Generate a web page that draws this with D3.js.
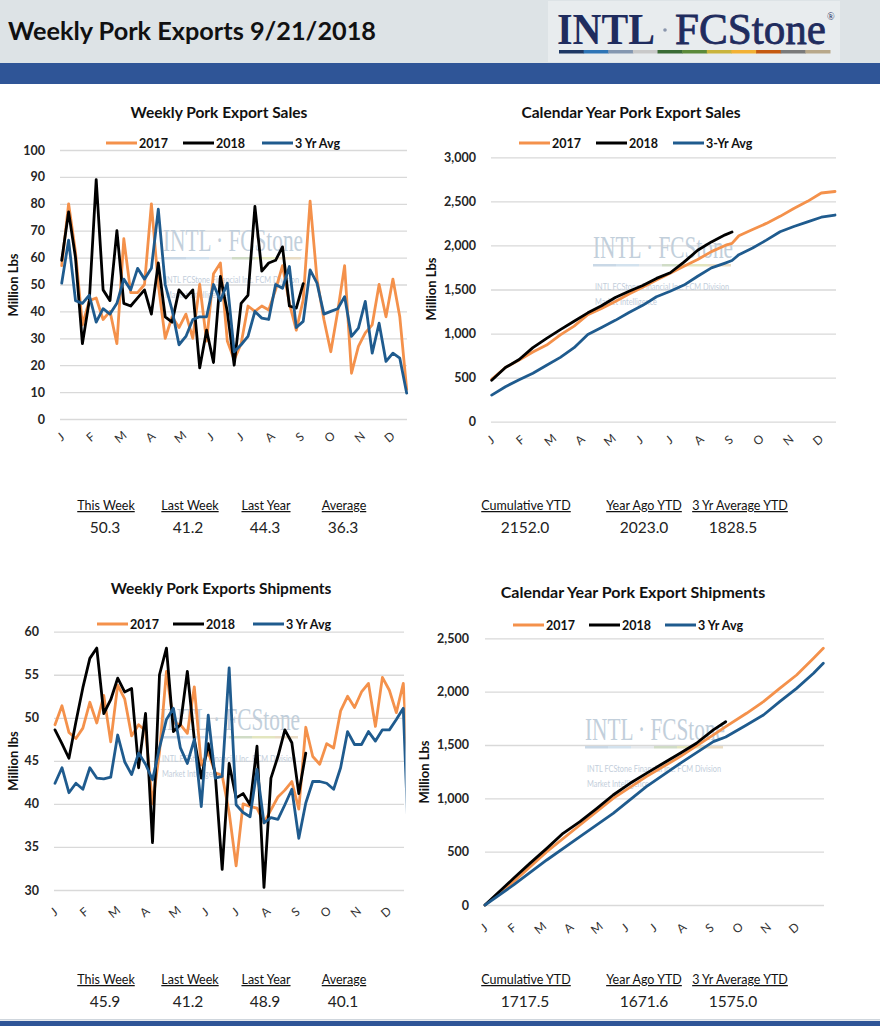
<!DOCTYPE html>
<html>
<head>
<meta charset="utf-8">
<script src="https://cdn.jsdelivr.net/npm/d3@7"></script>
<style>
  body { margin: 0; background: #fff; }
  svg { display: block; font-family: Lato, "Open Sans", sans-serif; }
</style>
</head>
<body>
<svg id="page" width="880" height="1026"></svg>
<script>
const MONTHS = ['J','F','M','A','M','J','J','A','S','O','N','D'];
const NAMES = ['2017', '2018', '3 Yr Avg'];
const NAMES_CY_SALES = ['2017', '2018', '3-Yr Avg'];

// weekly export sales, million lbs (week index 0..50)
const salesWk2017 = [57, 80, 62, 35, 44, 45, 37, 40, 28, 67, 47, 47, 50, 80, 50, 30, 38, 34, 39, 30,
  50, 29, 54, 58, 29, 22, 28, 42, 40, 42, 40.5, 48, 57, 43, 33, 44.3, 81, 52, 37, 25,
  40, 57, 17, 27, 32, 35, 50, 38, 52, 38, 11];
const salesWk2018 = [59, 77, 60, 28, 44, 89, 48, 44, 70, 43, 42, 45, 48, 39, 58, 38, 36, 48, 45, 48,
  19, 33, 21, 53, 40, 20, 43, 46, 79, 55, 58, 59, 64, 42, 41.2, 50.3];
const salesWkAvg = [50.5, 66.5, 44, 43, 46, 36, 41, 39, 43, 52, 48, 56, 52, 56, 78, 50, 40.5, 27.6, 30.7, 37,
  38, 38, 50, 44, 50.5, 25, 27.6, 30.7, 40, 37.5, 37, 50, 48.6, 56.7, 34, 36.3, 55.4, 50.5, 39, 40,
  41, 45.5, 30.7, 33.8, 43.7, 24.5, 35.6, 21.4, 24.5, 22.6, 9.6];

// calendar-year cumulative sales (week, million lbs)
const salesCumWk17 = [0, 2, 4, 6, 8, 10, 12, 14, 16, 18, 20, 22, 24, 26, 28, 30, 32, 34, 35, 36, 38, 40, 42, 44, 46, 48, 50];
const salesCum17 = [480, 615, 700, 790, 870, 985, 1085, 1215, 1285, 1365, 1450, 1525, 1607, 1685, 1765, 1840, 1930, 2000, 2023, 2110, 2180, 2250, 2330, 2420, 2500, 2595, 2612];
const salesCumWk18 = [0, 2, 4, 6, 8, 10, 12, 14, 16, 18, 20, 22, 24, 26, 28, 30, 32, 34, 35];
const salesCum18 = [470, 615, 705, 840, 945, 1045, 1140, 1235, 1315, 1410, 1480, 1545, 1626, 1690, 1810, 1945, 2040, 2120, 2152];
const salesCumWkAvg = [0, 2, 4, 6, 8, 10, 12, 14, 16, 18, 20, 22, 24, 26, 28, 30, 32, 34, 35, 36, 38, 40, 42, 44, 46, 48, 50];
const salesCumAvg = [302, 397, 475, 550, 640, 730, 840, 990, 1070, 1150, 1240, 1320, 1418, 1480, 1550, 1650, 1745, 1800, 1828.5, 1895, 1970, 2060, 2155, 2215, 2268, 2320, 2345];

// weekly shipments, million lbs (last value of 2017/avg only partly visible at the right edge)
const shipWk2017 = [49.2, 51.4, 48.3, 47.6, 48.8, 51.8, 49.4, 52.6, 47.2, 53.8, 52.2, 47.9, 49.2, 48.5, 40, 46, 55.4, 49.4, 49.2, 48.2,
  53.6, 44.5, 46, 43.6, 43.3, 39, 32.8, 40, 39.7, 39.5, 37.8, 39.3, 40.8, 41.6, 42.6, 39.4, 48.9, 45.5, 44.6, 47,
  46.5, 50.8, 52.5, 51.2, 53, 54, 49, 54.7, 53.2, 50.6, 54, 40];
const shipWk2018 = [48.6, 47, 45.3, 49.5, 53.5, 56.9, 58.1, 50.5, 52.1, 54.6, 53, 53.4, 44.2, 50.5, 35.5, 55, 58.1, 48.4, 49.2, 55.4,
  47.5, 43, 47, 43.5, 32.4, 44.7, 40.7, 41.2, 39.9, 46.7, 30.3, 43, 45.5, 48.6, 47.1, 41.2, 45.9];
const shipWkAvg = [42.4, 44.2, 41.3, 42.4, 41.7, 44.2, 43, 42.9, 43.1, 48, 44.9, 43.4, 45.9, 44.6, 42.8, 46.5, 49.8, 51.1, 46.5, 44.7,
  47.5, 39.7, 50.3, 43, 43.2, 55.8, 39.9, 39, 38.5, 44, 37.8, 38.4, 38.2, 39.9, 41.7, 36, 40.1, 42.6, 42.6, 42.4,
  41.7, 44.2, 48.4, 46.9, 46.9, 48.4, 47.3, 48.6, 48.6, 49.8, 51.1, 30];

// calendar-year cumulative shipments (week, million lbs)
const shipCumWk17 = [0, 4.4, 9.5, 14.6, 19.7, 24.8, 30, 35.1, 37, 40.2, 42.8, 45.3, 47.9, 50.5, 52];
const shipCum17 = [0, 219, 500, 750, 1000, 1203, 1391, 1594, 1671.6, 1797, 1906, 2031, 2156, 2313, 2406];
const shipCumWk18 = [0, 4.4, 6.9, 9.5, 12, 14.6, 17.2, 19.7, 22.3, 24.8, 27.4, 30, 32.5, 35.1, 37];
const shipCum18 = [0, 250, 390, 531, 672, 781, 906, 1031, 1141, 1234, 1328, 1422, 1516, 1641, 1717.5];
const shipCumWkAvg = [0, 4.4, 9.5, 14.6, 19.7, 24.8, 30, 35.1, 37, 40.2, 42.8, 45.3, 47.9, 50.5, 52];
const shipCumAvg = [0, 188, 422, 641, 859, 1109, 1328, 1531, 1575, 1688, 1781, 1906, 2031, 2172, 2266];

const WEEK_STAT_LABELS = ['This Week', 'Last Week', 'Last Year', 'Average'];
const CY_STAT_LABELS = ['Cumulative YTD', 'Year Ago YTD', '3 Yr Average YTD'];
const salesStats = ['50.3', '41.2', '44.3', '36.3'];
const salesCyStats = ['2152.0', '2023.0', '1828.5'];
const shipStats = ['45.9', '41.2', '48.9', '40.1'];
const shipCyStats = ['1717.5', '1671.6', '1575.0'];

const C17 = '#f4914b', C18 = '#000000', CAVG = '#1f5b8e';
const svg = d3.select('#page');

function byIndex(vals) { return vals.map(function (v, i) { return [i, v]; }); }

function drawHeader() {
  svg.append('rect').attr('width', 880).attr('height', 63).attr('fill', '#dde3e6');
  svg.append('rect').attr('x', 548).attr('y', 1).attr('width', 292).attr('height', 61).attr('fill', '#e8ecee');
  svg.append('rect').attr('y', 63).attr('width', 880).attr('height', 21).attr('fill', '#2f5597');
  svg.append('text').attr('x', 8).attr('y', 40).attr('font-size', 24).attr('font-weight', 'bold')
    .attr('textLength', 368).attr('lengthAdjust', 'spacingAndGlyphs')
    .attr('fill', '#111').text('Weekly Pork Exports 9/21/2018');

  const logo = svg.append('g').attr('font-family', '"Liberation Serif", serif').attr('fill', '#1f2c5e');
  logo.append('text').attr('x', 557).attr('y', 44).attr('font-size', 44).attr('font-weight', 'bold')
    .attr('textLength', 98).attr('lengthAdjust', 'spacingAndGlyphs').text('INTL');
  logo.append('circle').attr('cx', 665).attr('cy', 30).attr('r', 1.8).attr('fill', '#8a96ad');
  logo.append('text').attr('x', 675).attr('y', 44).attr('font-size', 44).attr('stroke', '#1f2c5e').attr('stroke-width', 0.8)
    .attr('textLength', 151).attr('lengthAdjust', 'spacingAndGlyphs').text('FCStone');
  logo.append('text').attr('x', 827).attr('y', 20).attr('font-size', 10).text('®');
  const stripe = ['#1f3864','#2e75b6','#8497b0','#c9c9c9','#3a6b35','#5b8a3a','#c9b43c','#f2b134','#c55a11','#7a7a7a','#b8a88a'];
  const sx = d3.scaleBand().domain(d3.range(stripe.length)).range([559, 830]);
  logo.selectAll('rect.stripe').data(stripe).join('rect').attr('class', 'stripe')
    .attr('x', function (d, i) { return sx(i); }).attr('y', 50).attr('width', sx.bandwidth() + 0.5).attr('height', 3.5)
    .attr('fill', function (d) { return d; });

  svg.append('rect').attr('y', 1019).attr('width', 880).attr('height', 1.5).attr('fill', '#cfd6dd');
  svg.append('rect').attr('y', 1021).attr('width', 880).attr('height', 5).attr('fill', '#2f5597');
}

function drawWatermark(g, x, y) {
  const wm = g.append('g').attr('class', 'watermark');
  wm.append('text').attr('x', x).attr('y', y).attr('font-family', '"Liberation Serif", serif').attr('font-size', 31)
    .attr('fill', '#c2cfdb').attr('textLength', 140).attr('lengthAdjust', 'spacingAndGlyphs').text('INTL · FCStone');
  const pale = ['#c9d8e6','#d3e2ee','#e6e9ec','#d0dcc6','#e3e6bf','#e9dcc4'];
  const px = d3.scaleBand().domain(d3.range(pale.length)).range([x, x + 138]);
  wm.selectAll('rect').data(pale).join('rect')
    .attr('x', function (d, i) { return px(i); }).attr('y', y + 6).attr('width', px.bandwidth()).attr('height', 2.5)
    .attr('fill', function (d) { return d; });
  wm.append('text').attr('x', x + 2).attr('y', y + 32).attr('font-size', 10).attr('fill', '#c3cedb')
    .attr('textLength', 134).attr('lengthAdjust', 'spacingAndGlyphs').text('INTL FCStone Financial Inc. FCM Division');
  wm.append('text').attr('x', x + 2).attr('y', y + 47).attr('font-size', 10).attr('fill', '#c3cedb')
    .attr('textLength', 62).attr('lengthAdjust', 'spacingAndGlyphs').text('Market Intelligence');
}

function drawChart(c) {
  const x = d3.scaleLinear().domain(c.xDomain).range([c.x0, c.x1]);
  const y = d3.scaleLinear().domain(c.yDomain).range([c.yBottom, c.yTop]);
  const g = svg.append('g');

  g.append('text').attr('x', c.titleX).attr('y', c.titleY).attr('text-anchor', 'middle')
    .attr('font-size', c.titleSize).attr('font-weight', 'bold').attr('fill', '#111').text(c.title);

  const axis = d3.axisLeft(y).tickValues(c.yTicks).tickFormat(c.fmt)
    .tickSize(-(c.gx1 - c.gx0)).tickPadding(c.pad);
  const ax = g.append('g').attr('transform', 'translate(' + c.gx0 + ',0)').call(axis)
    .attr('font-family', null).attr('font-size', null);
  ax.select('.domain').remove();
  ax.selectAll('.tick line').attr('stroke', '#d9d9d9').attr('stroke-width', 1.3);
  ax.selectAll('.tick text').attr('font-size', 12.5).attr('font-weight', 'bold').attr('fill', '#262626');

  g.append('text').attr('transform', 'translate(' + c.ylabX + ',' + c.ylabY + ') rotate(-90)')
    .attr('text-anchor', 'middle').attr('dy', '0.35em').attr('font-size', 13).attr('font-weight', 'bold')
    .attr('fill', '#111').text(c.ylab);

  g.selectAll('text.month').data(MONTHS).join('text').attr('class', 'month')
    .attr('transform', function (d, i) {
      return 'translate(' + (x(i * 52 / 12) - 1) + ',' + c.monthY + ') rotate(-40)';
    })
    .attr('text-anchor', 'middle').attr('dy', '0.35em').attr('font-size', 12).attr('fill', '#333')
    .text(function (d) { return d; });

  drawWatermark(g, c.wmX, c.wmY);

  const clipId = 'clip' + c.id;
  g.append('clipPath').attr('id', clipId).append('rect')
    .attr('x', c.x0 - 10).attr('y', c.yTop - 20).attr('width', c.clipX - c.x0 + 10).attr('height', c.yBottom - c.yTop + 40);
  const line = d3.line().x(function (d) { return x(d[0]); }).y(function (d) { return y(d[1]); });
  const lines = g.append('g').attr('clip-path', 'url(#' + clipId + ')');
  lines.selectAll('path').data(c.series).join('path')
    .attr('d', function (s) { return line(s.points); })
    .attr('fill', 'none').attr('stroke', function (s) { return s.color; })
    .attr('stroke-width', 2.8).attr('stroke-linejoin', 'round').attr('stroke-linecap', 'round');

  const lg = g.append('g').attr('class', 'legend');
  c.series.forEach(function (s, i) {
    const lx = c.legendX[i];
    lg.append('line').attr('x1', lx).attr('x2', lx + 31).attr('y1', c.legendY).attr('y2', c.legendY)
      .attr('stroke', s.color).attr('stroke-width', 3);
    lg.append('text').attr('x', lx + 33).attr('y', c.legendY).attr('dy', '0.36em')
      .attr('font-size', 12.5).attr('font-weight', 'bold').attr('fill', '#111').text(s.name);
  });
}

function drawStats(labels, values, xs, vxs, y) {
  const g = svg.append('g').attr('class', 'stats');
  g.selectAll('text.lab').data(labels).join('text').attr('class', 'lab')
    .attr('x', function (d, i) { return xs[i]; }).attr('y', y).attr('text-anchor', 'middle')
    .attr('font-size', 12.5).attr('fill', '#111').attr('text-decoration', 'underline')
    .text(function (d) { return d; });
  g.selectAll('text.val').data(values).join('text').attr('class', 'val')
    .attr('x', function (d, i) { return vxs[i]; }).attr('y', y + 23).attr('text-anchor', 'middle')
    .attr('font-size', 15.5).attr('fill', '#222')
    .text(function (d) { return d; });
}

drawHeader();

drawChart({
  id: 1, title: 'Weekly Pork Export Sales', titleX: 219, titleY: 118, titleSize: 15.5,
  xDomain: [0, 50], x0: 61.7, x1: 406.7, clipX: 420,
  yDomain: [0, 100], yBottom: 419, yTop: 150, yTicks: d3.range(0, 101, 10), fmt: d3.format('d'),
  gx0: 60, gx1: 407, pad: 15, ylab: 'Million Lbs', ylabX: 13, ylabY: 285, monthY: 437,
  wmX: 163, wmY: 251, legendY: 143, legendX: [106, 183, 262],
  series: [
    { name: NAMES[0], color: C17, points: byIndex(salesWk2017) },
    { name: NAMES[1], color: C18, points: byIndex(salesWk2018) },
    { name: NAMES[2], color: CAVG, points: byIndex(salesWkAvg) }
  ]
});

drawChart({
  id: 2, title: 'Calendar Year Pork Export Sales', titleX: 631, titleY: 118, titleSize: 15.5,
  xDomain: [0, 50], x0: 491.7, x1: 835, clipX: 850,
  yDomain: [0, 3000], yBottom: 421.7, yTop: 157.3, yTicks: d3.range(0, 3001, 500), fmt: d3.format(','),
  gx0: 491, gx1: 836, pad: 15, ylab: 'Million Lbs', ylabX: 431, ylabY: 289, monthY: 440,
  wmX: 593, wmY: 258, legendY: 143, legendX: [519, 596, 673],
  series: [
    { name: NAMES_CY_SALES[0], color: C17, points: d3.zip(salesCumWk17, salesCum17) },
    { name: NAMES_CY_SALES[1], color: C18, points: d3.zip(salesCumWk18, salesCum18) },
    { name: NAMES_CY_SALES[2], color: CAVG, points: d3.zip(salesCumWkAvg, salesCumAvg) }
  ]
});

drawChart({
  id: 3, title: 'Weekly Pork Exports Shipments', titleX: 221, titleY: 594, titleSize: 15.5,
  xDomain: [0, 50], x0: 55, x1: 403.3, clipX: 405.5,
  yDomain: [30, 60], yBottom: 890, yTop: 631.7, yTicks: d3.range(30, 61, 5), fmt: d3.format('d'),
  gx0: 54, gx1: 404, pad: 15, ylab: 'Million lbs', ylabX: 13, ylabY: 761, monthY: 912,
  wmX: 160, wmY: 730, legendY: 624, legendX: [97, 173, 253],
  series: [
    { name: NAMES[0], color: C17, points: byIndex(shipWk2017) },
    { name: NAMES[1], color: C18, points: byIndex(shipWk2018) },
    { name: NAMES[2], color: CAVG, points: byIndex(shipWkAvg) }
  ]
});

drawChart({
  id: 4, title: 'Calendar Year Pork Export Shipments', titleX: 633, titleY: 598, titleSize: 16,
  xDomain: [0, 52], x0: 485, x1: 823.3, clipX: 840,
  yDomain: [0, 2500], yBottom: 905, yTop: 638.3, yTicks: d3.range(0, 2501, 500), fmt: d3.format(','),
  gx0: 485, gx1: 824, pad: 16, ylab: 'Million Lbs', ylabX: 424, ylabY: 772, monthY: 928,
  wmX: 585, wmY: 740, legendY: 625, legendX: [513, 589, 665],
  series: [
    { name: NAMES[0], color: C17, points: d3.zip(shipCumWk17, shipCum17) },
    { name: NAMES[1], color: C18, points: d3.zip(shipCumWk18, shipCum18) },
    { name: NAMES[2], color: CAVG, points: d3.zip(shipCumWkAvg, shipCumAvg) }
  ]
});

drawStats(WEEK_STAT_LABELS, salesStats, [106, 190, 266, 344], [105, 188, 265, 343], 510);
drawStats(CY_STAT_LABELS, salesCyStats, [526, 644, 740], [525, 644, 733], 510);
drawStats(WEEK_STAT_LABELS, shipStats, [106, 190, 266, 344], [105, 188, 265, 343], 984);
drawStats(CY_STAT_LABELS, shipCyStats, [526, 644, 740], [525, 644, 733], 984);
</script>
</body>
</html>
